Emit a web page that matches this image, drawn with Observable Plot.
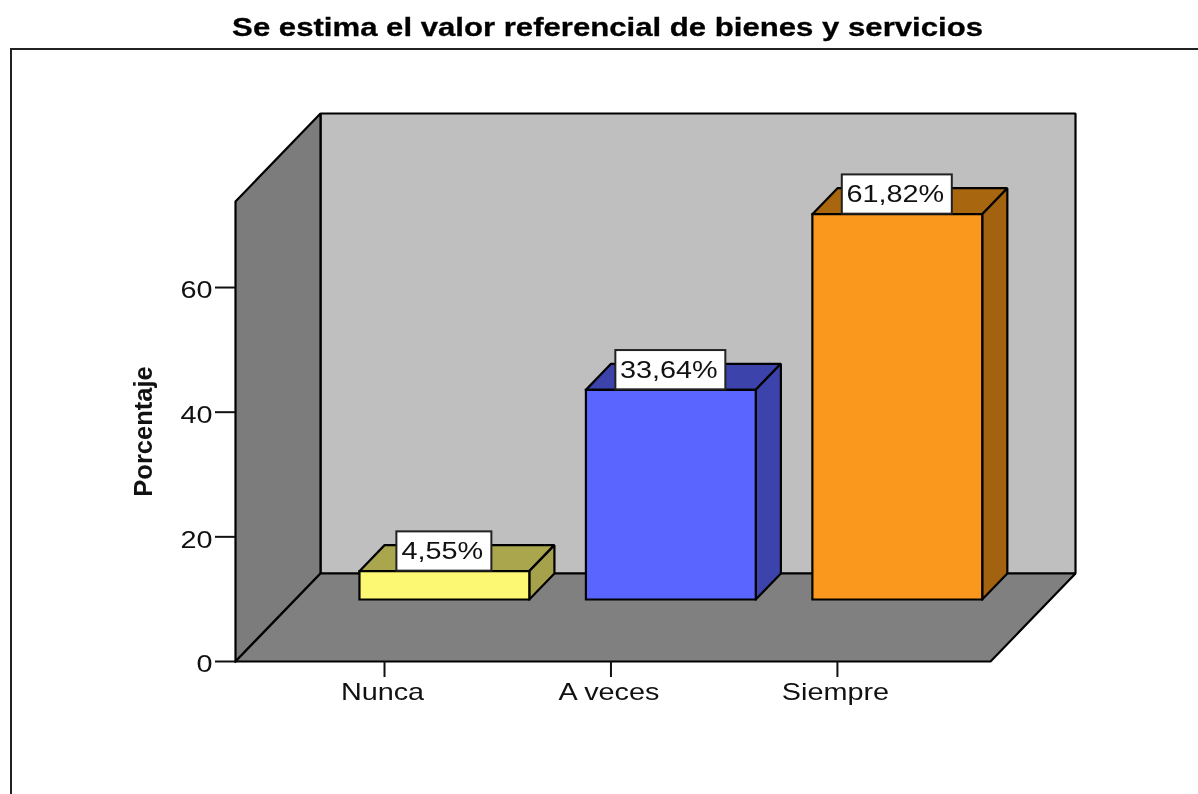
<!DOCTYPE html>
<html>
<head>
<meta charset="utf-8">
<script src="https://cdn.jsdelivr.net/npm/d3@7"></script>
<script src="https://cdn.jsdelivr.net/npm/@observablehq/plot@0.6"></script>
<style>
  html, body { margin: 0; padding: 0; background: #fff; overflow: hidden; }
  #title { position: absolute; left: 0; top: 0; width: 1215px; height: 48px; text-align: center; color: #000; white-space: nowrap;
           font: bold 25px/54px "Liberation Sans", Arial, sans-serif; filter: blur(0.4px); }
  #title span { display: inline-block; transform: scaleX(1.245); -webkit-text-stroke: 0.3px #000; }
  #frame { position: absolute; left: 10px; top: 48px; width: 1190px; height: 750px; box-sizing: border-box;
           border-left: 2px solid #222; border-top: 2px solid #222; }
  #chart { position: absolute; left: -0.5px; top: 47.5px; filter: blur(0.4px); }
  #chart svg { background: transparent; font-family: "Liberation Sans", Arial, sans-serif; }
  #chart svg text { fill: #111; }
</style>
</head>
<body>
<div id="title"><span>Se estima el valor referencial de bienes y servicios</span></div>
<div id="frame"></div>
<div id="chart"></div>
<script>
const categories = ["Nunca", "A veces", "Siempre"];
const percentages = [4.55, 33.64, 61.82];
const yTicks = [0, 20, 40, 60];
const frontColors = ["#FCF873", "#5A64FF", "#FA981E"];
const topColors = ["#A9A64D", "#3C43AA", "#A8660F"];
const sideColors = ["#A5A24B", "#3C43AA", "#A3620F"];

// Oblique projection of the 3D box: depth d runs 0 (front of floor) to 1 (back wall)
const depthU = 0.3753, depthV = 14.12;
const floorU0 = -0.658, floorU1 = 2.676, wallH = 73.8;
const barHalf = 0.375, barD0 = 0.7045, barD1 = 1;
const P = (u, v, d) => ({u: u + d * depthU, v: v + d * depthV});

const face = (pts, fill) => Plot.line([...pts, pts[0]], {
  x: "u", y: "v", fill, stroke: "#000", strokeWidth: 2.2, strokeLinejoin: "miter", strokeLinecap: "square", curve: "linear"
});

const marks = [
  face([P(floorU0, 0, 1), P(floorU1, 0, 1), P(floorU1, wallH, 1), P(floorU0, wallH, 1)], "#BFBFBF"),
  face([P(floorU0, 0, 0), P(floorU0, 0, 1), P(floorU0, wallH, 1), P(floorU0, wallH, 0)], "#7C7C7C"),
  face([P(floorU0, 0, 0), P(floorU1, 0, 0), P(floorU1, 0, 1), P(floorU0, 0, 1)], "#808080")
];

percentages.forEach((val, i) => {
  const a = i - barHalf, b = i + barHalf;
  marks.push(
    face([P(a, val, barD0), P(b, val, barD0), P(b, val, barD1), P(a, val, barD1)], topColors[i]),
    face([P(b, 0, barD0), P(b, 0, barD1), P(b, val, barD1), P(b, val, barD0)], sideColors[i]),
    face([P(a, 0, barD0), P(b, 0, barD0), P(b, val, barD0), P(a, val, barD0)], frontColors[i])
  );
});

const labelRows = percentages.map((val, i) => {
  const text = val.toFixed(2).replace(".", ",") + "%";
  const c = P(i, val, barD0);
  const half = (text.length * 15 + 20) / 2 / 226.5;
  return {text, u: c.u, v: c.v, u1: c.u - half, u2: c.u + half, v2: c.v + 6.3};
});

marks.push(
  Plot.rect(labelRows, {x1: "u1", x2: "u2", y1: "v", y2: "v2", fill: "#fff", stroke: "#222", strokeWidth: 2}),
  Plot.text(labelRows, {x: "u", y: d => d.v + 3.15, text: "text", dx: -2, fontSize: 24, fill: "#111"}),
  Plot.axisY({ticks: yTicks, tickSize: 20, fill: "none", stroke: "#111", strokeWidth: 2, label: null}),
  Plot.axisY({ticks: yTicks, tickSize: 0, tickPadding: 23, dy: 3, fontSize: 24, label: null, tickFormat: d => String(d)}),
  Plot.axisX({ticks: [0, 1, 2], tickFormat: i => categories[i], tickSize: 16, tickPadding: 5, stroke: "#111", strokeWidth: 2, fontSize: 24, label: null, fill: "none"}),
  Plot.axisX({ticks: [0, 1, 2], tickFormat: i => categories[i], tickSize: 0, tickPadding: 21, dx: -2, fontSize: 24, label: null}),
  Plot.text(["Porcentaje"], {x: floorU0, y: wallH / 2, text: d => d, rotate: -90, dx: -92, fontSize: 25.5, fontWeight: "bold", fill: "#000", className: "ylabel"})
);

const chart = Plot.plot({
  width: 1198,
  height: 746,
  marginLeft: 235,
  marginRight: 123,
  marginTop: 65,
  marginBottom: 133,
  x: {type: "linear", domain: [floorU0, floorU1 + depthU], axis: null},
  y: {type: "linear", domain: [0, wallH + depthV], axis: null},
  marks
});
document.getElementById("chart").appendChild(chart);

// The reference's regular text is horizontally stretched: widen glyphs by the same ratio.
chart.querySelectorAll("text").forEach(t => {
  if (t.closest(".ylabel")) return;
  t.setAttribute("textLength", t.getComputedTextLength() * 1.2);
  t.setAttribute("lengthAdjust", "spacingAndGlyphs");
});
</script>
</body>
</html>
